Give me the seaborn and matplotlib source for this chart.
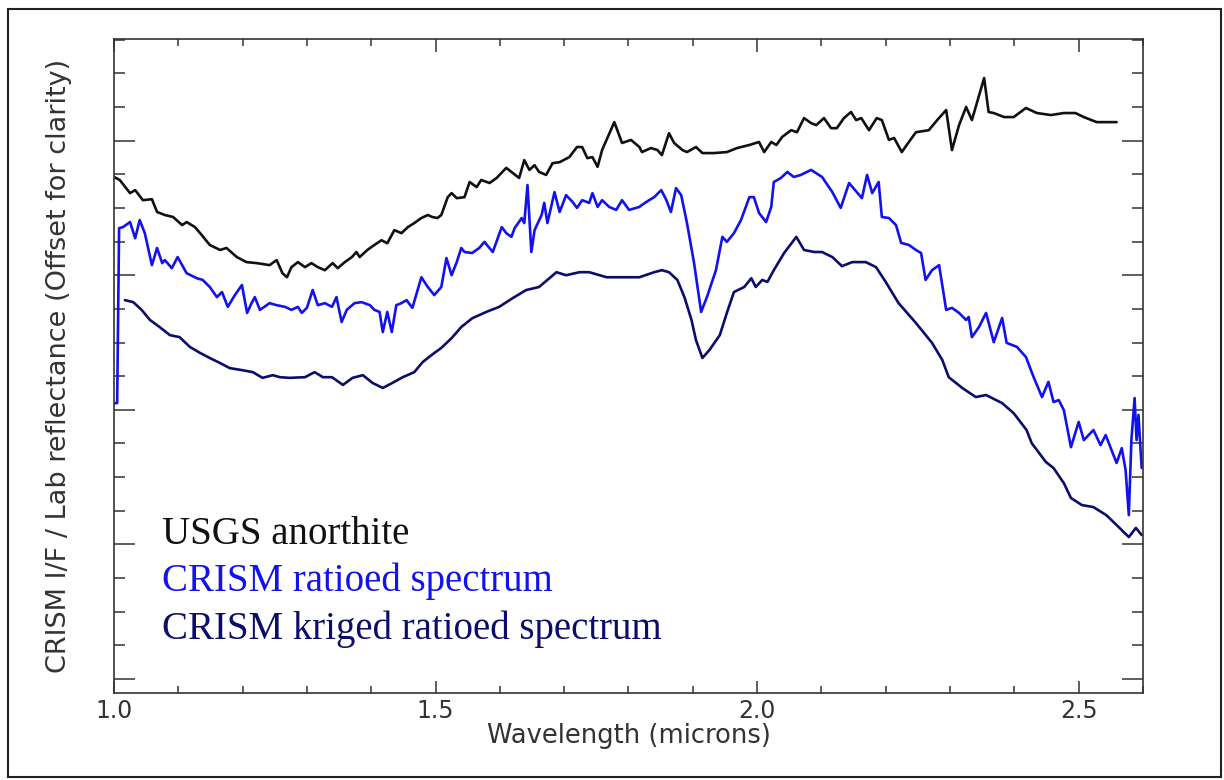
import numpy as np
import pandas as pd
import matplotlib
matplotlib.use("Agg")
import matplotlib.pyplot as plt
from matplotlib.ticker import MultipleLocator, FixedLocator
from matplotlib.patches import Rectangle
import seaborn as sns

# -------- DATA (offset units: one minor y tick = 1) --------
usgs_wl = [1.000, 1.009, 1.025, 1.033, 1.045, 1.059, 1.067, 1.079, 1.092, 1.106, 1.113, 1.126,
           1.134, 1.149, 1.165, 1.175, 1.191, 1.206, 1.222, 1.242, 1.253, 1.262, 1.269, 1.276,
           1.286, 1.297, 1.307, 1.317, 1.328, 1.340, 1.348, 1.359, 1.370, 1.377, 1.382, 1.394,
           1.405, 1.416, 1.425, 1.436, 1.447, 1.457, 1.467, 1.478, 1.488, 1.495, 1.503, 1.509,
           1.519, 1.525, 1.533, 1.545, 1.553, 1.564, 1.571, 1.584, 1.595, 1.610, 1.620, 1.630,
           1.638, 1.646, 1.654, 1.661, 1.672, 1.682, 1.693, 1.708, 1.720, 1.728, 1.736, 1.744,
           1.752, 1.759, 1.778, 1.790, 1.804, 1.817, 1.821, 1.835, 1.845, 1.852, 1.863, 1.871,
           1.884, 1.891, 1.905, 1.915, 1.933, 1.953, 1.969, 1.988, 2.003, 2.011, 2.022, 2.030,
           2.039, 2.053, 2.062, 2.073, 2.084, 2.092, 2.104, 2.115, 2.124, 2.135, 2.146, 2.154,
           2.162, 2.174, 2.186, 2.194, 2.205, 2.213, 2.225, 2.236, 2.247, 2.267, 2.280, 2.294,
           2.303, 2.314, 2.325, 2.334, 2.353, 2.360, 2.368, 2.384, 2.399, 2.418, 2.435, 2.457,
           2.477, 2.495, 2.508, 2.528, 2.559]
usgs_refl = [15.92, 15.83, 15.44, 15.53, 15.23, 15.26, 14.88, 14.79, 14.73, 14.49, 14.58, 14.43,
             14.25, 13.90, 13.75, 13.81, 13.54, 13.39, 13.36, 13.30, 13.45, 13.06, 12.94, 13.24,
             13.39, 13.24, 13.36, 13.24, 13.15, 13.36, 13.21, 13.39, 13.54, 13.69, 13.54, 13.75,
             13.90, 14.04, 13.95, 14.34, 14.25, 14.43, 14.55, 14.70, 14.79, 14.73, 14.70, 14.79,
             15.32, 15.44, 15.29, 15.32, 15.77, 15.62, 15.83, 15.74, 15.89, 16.19, 16.04, 15.89,
             16.42, 16.13, 16.27, 16.07, 15.98, 16.33, 16.36, 16.51, 16.81, 16.81, 16.48, 16.51,
             16.22, 16.72, 17.55, 16.93, 17.02, 16.81, 16.66, 16.78, 16.72, 16.57, 17.22, 16.93,
             16.72, 16.66, 16.81, 16.63, 16.63, 16.66, 16.78, 16.87, 16.96, 16.66, 16.96, 16.87,
             17.11, 17.31, 17.25, 17.67, 17.52, 17.46, 17.67, 17.37, 17.37, 17.67, 17.85, 17.61,
             17.67, 17.31, 17.67, 17.61, 17.02, 17.08, 16.66, 16.96, 17.25, 17.31, 17.61, 17.91,
             16.72, 17.46, 18.00, 17.61, 18.86, 17.85, 17.82, 17.70, 17.70, 17.97, 17.82, 17.76,
             17.82, 17.82, 17.70, 17.55, 17.55]

ratio_wl = [1.000, 1.005, 1.008, 1.014, 1.025, 1.033, 1.040, 1.048, 1.059, 1.067, 1.075, 1.079,
            1.090, 1.099, 1.113, 1.129, 1.138, 1.149, 1.160, 1.168, 1.177, 1.188, 1.199, 1.207,
            1.214, 1.219, 1.227, 1.242, 1.253, 1.266, 1.276, 1.286, 1.292, 1.300, 1.309, 1.317,
            1.328, 1.339, 1.346, 1.354, 1.362, 1.374, 1.385, 1.398, 1.405, 1.413, 1.418, 1.425,
            1.432, 1.439, 1.447, 1.455, 1.464, 1.478, 1.488, 1.498, 1.509, 1.517, 1.525, 1.533,
            1.540, 1.545, 1.557, 1.568, 1.576, 1.589, 1.603, 1.610, 1.618, 1.623, 1.634, 1.638,
            1.643, 1.649, 1.654, 1.665, 1.669, 1.674, 1.685, 1.693, 1.703, 1.713, 1.720, 1.728,
            1.739, 1.744, 1.752, 1.759, 1.770, 1.781, 1.790, 1.801, 1.817, 1.821, 1.832, 1.840,
            1.851, 1.859, 1.866, 1.874, 1.882, 1.891, 1.902, 1.913, 1.922, 1.936, 1.946, 1.953,
            1.964, 1.975, 1.988, 1.995, 2.003, 2.014, 2.022, 2.026, 2.037, 2.047, 2.057, 2.068,
            2.084, 2.101, 2.117, 2.130, 2.143, 2.163, 2.171, 2.179, 2.189, 2.194, 2.205, 2.216,
            2.224, 2.236, 2.247, 2.255, 2.262, 2.272, 2.283, 2.294, 2.303, 2.314, 2.325, 2.329,
            2.334, 2.345, 2.356, 2.368, 2.381, 2.388, 2.404, 2.418, 2.430, 2.443, 2.453, 2.461,
            2.469, 2.477, 2.488, 2.500, 2.508, 2.523, 2.534, 2.542, 2.550, 2.559, 2.567, 2.573,
            2.578, 2.582, 2.587, 2.590, 2.593, 2.598]
ratio_refl = [9.20, 9.20, 14.40, 14.43, 14.58, 14.10, 14.64, 14.25, 13.30, 13.81, 13.36, 13.45,
              13.21, 13.54, 13.06, 12.91, 12.86, 12.65, 12.35, 12.50, 12.06, 12.41, 12.71, 11.88,
              12.17, 12.35, 11.97, 12.17, 12.11, 12.06, 11.97, 12.06, 11.88, 12.03, 12.56, 12.11,
              12.17, 12.06, 12.35, 11.61, 11.97, 12.17, 12.20, 12.11, 11.97, 11.91, 11.31, 11.91,
              11.31, 12.11, 12.17, 12.26, 12.03, 12.94, 12.65, 12.41, 12.65, 13.51, 13.00, 13.39,
              13.81, 13.69, 13.66, 13.81, 13.99, 13.69, 14.43, 14.25, 14.14, 14.40, 14.70, 14.55,
              15.68, 13.69, 14.34, 14.79, 15.15, 14.55, 15.47, 14.88, 15.38, 15.18, 15.00, 15.23,
              15.15, 15.44, 15.03, 15.23, 15.03, 14.94, 15.23, 14.94, 15.03, 15.09, 15.23, 15.32,
              15.53, 15.23, 14.88, 15.59, 15.38, 14.55, 13.36, 11.91, 12.35, 13.15, 14.14, 13.99,
              14.25, 14.64, 15.32, 15.32, 14.85, 14.58, 15.03, 15.77, 15.89, 16.07, 15.92, 15.98,
              16.13, 15.92, 15.47, 15.00, 15.74, 15.29, 15.98, 15.44, 15.77, 14.73, 14.70, 14.49,
              13.96, 13.90, 13.75, 13.66, 12.86, 13.15, 13.30, 11.97, 12.03, 11.88, 11.67, 11.76,
              11.16, 11.46, 11.88, 11.01, 11.73, 10.99, 10.87, 10.57, 9.97, 9.38, 9.83, 9.23,
              9.29, 8.99, 7.89, 8.64, 8.10, 8.40, 7.95, 8.25, 7.86, 7.42, 7.86, 7.21,
              5.87, 8.10, 9.35, 8.10, 8.85, 7.27]

kriged_wl = [1.017, 1.030, 1.043, 1.056, 1.071, 1.087, 1.102, 1.118, 1.134, 1.149, 1.165, 1.180,
             1.199, 1.216, 1.231, 1.247, 1.258, 1.273, 1.297, 1.312, 1.325, 1.339, 1.356, 1.371,
             1.387, 1.402, 1.418, 1.433, 1.449, 1.467, 1.480, 1.494, 1.509, 1.525, 1.540, 1.557,
             1.579, 1.599, 1.620, 1.641, 1.661, 1.677, 1.688, 1.703, 1.724, 1.739, 1.766, 1.790,
             1.817, 1.840, 1.852, 1.863, 1.876, 1.887, 1.898, 1.905, 1.915, 1.926, 1.942, 1.953,
             1.964, 1.980, 1.991, 1.998, 2.008, 2.016, 2.026, 2.042, 2.061, 2.073, 2.089, 2.101,
             2.117, 2.132, 2.148, 2.169, 2.185, 2.200, 2.220, 2.247, 2.272, 2.288, 2.298, 2.319,
             2.340, 2.356, 2.381, 2.399, 2.419, 2.427, 2.449, 2.461, 2.477, 2.488, 2.505, 2.523,
             2.543, 2.562, 2.578, 2.589, 2.598]
kriged_refl = [12.26, 12.20, 11.97, 11.67, 11.46, 11.22, 11.16, 10.87, 10.69, 10.54, 10.39, 10.24,
               10.18, 10.12, 9.95, 10.03, 9.97, 9.95, 9.97, 10.12, 9.97, 9.97, 9.74, 9.95,
               10.03, 9.80, 9.65, 9.80, 9.97, 10.12, 10.42, 10.63, 10.84, 11.13, 11.46, 11.72,
               11.91, 12.06, 12.32, 12.56, 12.65, 12.91, 13.09, 13.00, 13.09, 13.09, 12.94, 12.94,
               12.94, 13.09, 13.15, 13.09, 12.86, 12.35, 11.67, 11.07, 10.54, 10.78, 11.22, 11.88,
               12.50, 12.65, 12.91, 12.65, 12.86, 12.80, 13.15, 13.66, 14.14, 13.75, 13.69, 13.69,
               13.54, 13.27, 13.39, 13.39, 13.24, 12.80, 12.17, 11.58, 10.99, 10.48, 9.97, 9.65,
               9.38, 9.44, 9.20, 8.90, 8.40, 8.01, 7.45, 7.27, 6.82, 6.38, 6.17, 6.11,
               5.87, 5.52, 5.22, 5.49, 5.28]

labels = ["USGS anorthite", "CRISM ratioed spectrum", "CRISM kriged ratioed spectrum"]
colors = ["#111111", "#1212ee", "#0c0c6c"]

# -------- FIGURE --------
sns.set_theme(style="white")
plt.rcParams["font.family"] = ["DejaVu Sans"]

fig = plt.figure(figsize=(12.24, 7.80), dpi=100)
ax = fig.add_axes([0.0931, 0.1115, 0.8407, 0.8385])

series = [(usgs_wl, usgs_refl), (ratio_wl, ratio_refl), (kriged_wl, kriged_refl)]
for (wl, refl), lab, col in zip(series, labels, colors):
    df = pd.DataFrame({"wl": wl, "refl": refl})
    sns.lineplot(data=df, x="wl", y="refl", ax=ax, color=col, linewidth=1.9,
                 estimator=None, sort=False)

ax.set_xlim(1.0, 2.6)
ax.set_ylim(0.584, 20.02)

ax.xaxis.set_major_locator(FixedLocator([1.0, 1.5, 2.0, 2.5]))
ax.xaxis.set_minor_locator(MultipleLocator(0.1))
ax.yaxis.set_major_locator(FixedLocator([1, 5, 9, 13, 17]))
ax.yaxis.set_minor_locator(MultipleLocator(1))
ax.set_yticklabels([])
ax.xaxis.set_major_formatter(matplotlib.ticker.FormatStrFormatter("%.1f"))

ax.tick_params(axis="x", which="major", direction="in", length=9, width=1.1,
               top=True, bottom=True, labelsize=17, labelcolor="#333333", color="#333333", pad=4)
ax.tick_params(axis="x", which="minor", direction="in", length=5, width=1.1,
               top=True, bottom=True, color="#333333")
ax.tick_params(axis="y", which="major", direction="in", length=15, width=1.1,
               left=True, right=True, color="#333333")
ax.tick_params(axis="y", which="minor", direction="in", length=8, width=1.1,
               left=True, right=True, color="#333333")

for sp in ax.spines.values():
    sp.set_color("#333333")
    sp.set_linewidth(1.2)

ax.set_xlabel("Wavelength (microns)", fontsize=18.5, color="#333333", labelpad=0)
ax.set_ylabel("CRISM I/F / Lab reflectance (Offset for clarity)", fontsize=19.5,
              color="#333333", labelpad=27)

# text legend in serif
for i, (lab, col) in enumerate(zip(labels, colors)):
    ax.text(0.047, 0.228 - i * 0.0726, lab, transform=ax.transAxes, color=col,
            fontsize=28, family=["Liberation Serif", "DejaVu Serif"], va="baseline")

# outer frame
fig.patches.append(Rectangle((0.0065, 0.004), 0.991, 0.9846, transform=fig.transFigure,
                             fill=False, edgecolor="#222222", linewidth=1.5))

fig.savefig("out.png", dpi=100)
